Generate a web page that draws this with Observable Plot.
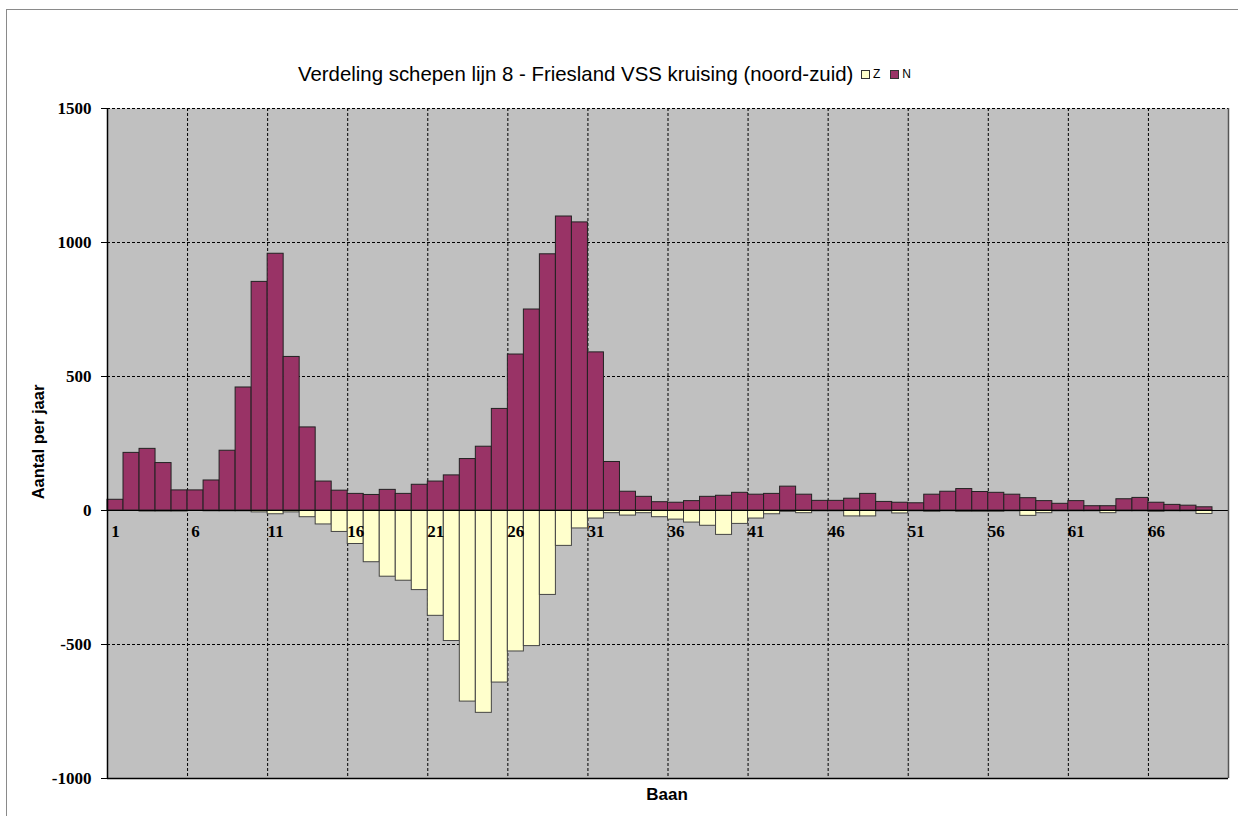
<!DOCTYPE html>
<html>
<head>
<meta charset="utf-8">
<script src="https://cdn.jsdelivr.net/npm/d3@7"></script>
<script src="https://cdn.jsdelivr.net/npm/@observablehq/plot@0.6"></script>
<style>
  html, body { margin: 0; padding: 0; background: #fff; overflow: hidden; }
  body { width: 1238px; height: 816px; position: relative; font-family: "Liberation Sans", Arial, sans-serif; }
  #frameBorder { position: absolute; left: 6px; top: 9px; width: 1232px; height: 807px; box-sizing: border-box; border-left: 1.5px solid #8a8a8a; border-top: 1.5px solid #8a8a8a; }
  #chart { position: absolute; left: 0; top: 0; }
  #chart svg text { font-family: "Liberation Serif", serif; font-size: 17px; font-weight: bold; }
  #title { position: absolute; left: 298px; top: 63px; font-size: 20.4px; white-space: nowrap; color: #000; }
  #legend { position: absolute; left: 861px; top: 67px; font-size: 12px; white-space: nowrap; color: #000; display: flex; align-items: center; }
  #legend .sw { display: inline-block; width: 7px; height: 7px; border: 1px solid #333; margin-right: 3px; }
  #legend .item { display: inline-flex; align-items: center; margin-right: 10px; }
  #ytitle { position: absolute; left: 38px; top: 442px; transform: translate(-50%, -50%) rotate(-90deg); font-size: 16.5px; font-weight: bold; white-space: nowrap; }
  #xtitle { position: absolute; left: 667px; top: 795px; transform: translate(-50%, -50%); font-size: 17px; font-weight: bold; white-space: nowrap; }
</style>
</head>
<body>
<div id="frameBorder"></div>
<div id="chart"></div>
<div id="title">Verdeling schepen lijn 8 - Friesland VSS kruising (noord-zuid)</div>
<div id="legend"></div>
<div id="ytitle">Aantal per jaar</div>
<div id="xtitle">Baan</div>
<script>
// Categories (baan 1..69)
const baan = [1,2,3,4,5,6,7,8,9,10,11,12,13,14,15,16,17,18,19,20,21,22,23,24,25,26,27,28,29,30,
  31,32,33,34,35,36,37,38,39,40,41,42,43,44,45,46,47,48,49,50,51,52,53,54,55,56,57,58,59,60,
  61,62,63,64,65,66,67,68,69];
// Series N (noord), positive
const seriesN = [40,215,230,177,75,75,112,223,459,853,958,573,310,108,74,62,58,77,62,96,
  108,131,192,238,379,582,750,956,1097,1075,590,181,70,51,31,29,35,51,55,66,
  59,62,89,59,36,36,44,62,32,29,27,59,70,80,69,66,59,46,35,25,
  35,16,16,42,47,29,21,18,12];
// Series Z (zuid), drawn negative
const seriesZ = [0,0,-4,-4,-4,0,-3,-3,-3,-7,-14,-7,-25,-52,-80,-125,-193,-247,-262,-297,
  -393,-487,-713,-755,-642,-526,-506,-315,-132,-67,-30,-10,-19,-10,-25,-34,-45,-57,-91,-50,
  -30,-14,-5,-10,-3,-3,-22,-22,-3,-11,-3,-5,-3,-5,-5,-5,-3,-20,-10,-3,
  -3,-3,-10,-3,-3,-5,-3,-3,-13];
const seriesNames = ["Z", "N"];
const seriesColors = ["#ffffcc", "#993366"];
const xTickLabels = [1,6,11,16,21,26,31,36,41,46,51,56,61,66];
const xDomain = [0.5, 70.5];
const yTicks = [-1000,-500,0,500,1000,1500];
const yGrid = [-500,500,1000,1500];

const rows = baan.map((b, i) => ({baan: b, n: seriesN[i], z: seriesZ[i]}));
const xGrid = xTickLabels.slice(1).map(v => v - 0.5);

const chart = Plot.plot({
  width: 1238,
  height: 816,
  marginLeft: 107,
  marginRight: 10,
  marginTop: 108,
  marginBottom: 38,
  style: {background: "transparent", fontFamily: "'Liberation Serif', serif", fontSize: "17px", fontWeight: "bold", color: "#000", overflow: "visible"},
  x: {domain: xDomain, axis: null},
  y: {domain: [-1000, 1500], ticks: yTicks, tickSize: 6, tickPadding: 10, tickFormat: d => String(d), label: null},
  marks: [
    Plot.frame({fill: "#c0c0c0", stroke: "none"}),
    Plot.ruleY(yGrid, {stroke: "#000", strokeWidth: 1, strokeDasharray: "3,2"}),
    Plot.ruleX(xGrid, {stroke: "#000", strokeWidth: 1, strokeDasharray: "3,2"}),
    Plot.rect(rows, {x1: d => d.baan - 0.5, x2: d => d.baan + 0.5, y1: d => 0, y2: "z", fill: seriesColors[0], stroke: "#444", strokeWidth: 1}),
    Plot.rect(rows, {x1: d => d.baan - 0.5, x2: d => d.baan + 0.5, y1: d => 0, y2: "n", fill: seriesColors[1], stroke: "#222", strokeWidth: 1}),
    Plot.ruleY([0], {stroke: "#000", strokeWidth: 1}),
    Plot.ruleX([xDomain[0]], {stroke: "#000", strokeWidth: 1.5}),
    Plot.ruleY([-1000], {stroke: "#000", strokeWidth: 1.5}),
    Plot.ruleX([xDomain[1]], {stroke: "#555", strokeWidth: 1.5}),
    Plot.text(xTickLabels, {x: d => d, y: d => 0, text: d => String(d), dy: 21, fontSize: 17, fontWeight: "bold", fill: "#000"})
  ]
});
document.getElementById("chart").appendChild(chart);

const legend = document.getElementById("legend");
seriesNames.forEach((name, i) => {
  const item = document.createElement("span");
  item.className = "item";
  const sw = document.createElement("span");
  sw.className = "sw";
  sw.style.background = seriesColors[i];
  item.appendChild(sw);
  item.appendChild(document.createTextNode(name));
  legend.appendChild(item);
});
</script>
</body>
</html>
